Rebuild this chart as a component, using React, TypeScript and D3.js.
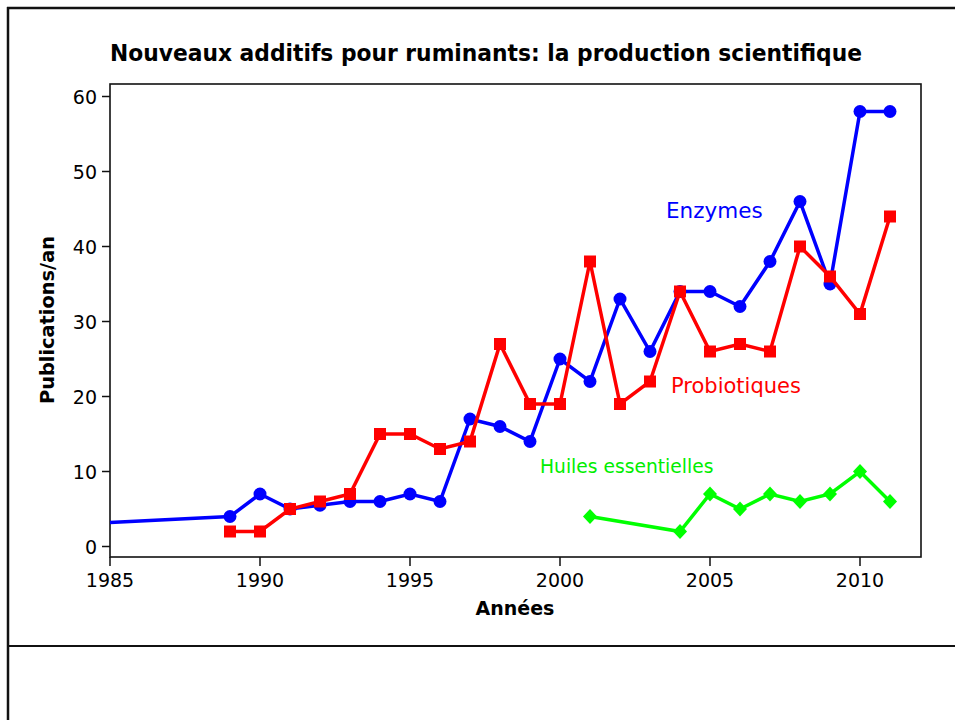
import React from 'react';
import * as d3 from 'd3';

const enzymeYears = [1985, 1989, 1990, 1991, 1992, 1993, 1994, 1995, 1996, 1997, 1998, 1999, 2000, 2001, 2002, 2003, 2004, 2005, 2006, 2007, 2008, 2009, 2010, 2011];
const enzymeValues = [3.2, 4, 7, 5, 5.5, 6, 6, 7, 6, 17, 16, 14, 25, 22, 33, 26, 34, 34, 32, 38, 46, 35, 58, 58];

const probioYears = [1989, 1990, 1991, 1992, 1993, 1994, 1995, 1996, 1997, 1998, 1999, 2000, 2001, 2002, 2003, 2004, 2005, 2006, 2007, 2008, 2009, 2010, 2011];
const probioValues = [2, 2, 5, 6, 7, 15, 15, 13, 14, 27, 19, 19, 38, 19, 22, 34, 26, 27, 26, 40, 36, 31, 44];

const huileYears = [2001, 2004, 2005, 2006, 2007, 2008, 2009, 2010, 2011];
const huileValues = [4, 2, 7, 5, 7, 6, 7, 10, 6];

const xTicks = [1985, 1990, 1995, 2000, 2005, 2010];
const yTicks = [0, 10, 20, 30, 40, 50, 60];

const FONT = '"DejaVu Sans", Verdana, sans-serif';
const W = 955;
const H = 720;
const box = { left: 110, right: 921, top: 84, bottom: 557 };

const x = d3.scaleLinear().domain([1985, 2010]).range([110, 860]);
const y = d3.scaleLinear().domain([0, 60]).range([546.5, 96.5]);

type Pt = { year: number; value: number };
const zip = (ys: number[], vs: number[]): Pt[] => ys.map((yr, i) => ({ year: yr, value: vs[i] }));

const line = d3.line<Pt>().x(d => x(d.year)).y(d => y(d.value));

const enzymes = zip(enzymeYears, enzymeValues);
const probios = zip(probioYears, probioValues);
const huiles = zip(huileYears, huileValues);

const App: React.FC = () => {
  const lw = 3.5;
  return (
    <svg width={W} height={H} style={{ position: 'absolute', left: 0, top: 0, background: '#fff' }} fontFamily={FONT}>
      {/* outer frame */}
      <line x1={7} x2={W} y1={8} y2={8} stroke="#111" strokeWidth={2.5} />
      <line x1={8} x2={8} y1={7} y2={H} stroke="#111" strokeWidth={2.5} />
      <line x1={8} x2={W} y1={646} y2={646} stroke="#111" strokeWidth={2} />

      <text x={486} y={61} textAnchor="middle" fontSize={23} fontWeight="bold" textLength={752} lengthAdjust="spacingAndGlyphs">
        Nouveaux additifs pour ruminants: la production scientifique
      </text>

      {/* plot box */}
      <rect x={box.left} y={box.top} width={box.right - box.left} height={box.bottom - box.top} fill="none" stroke="#111" strokeWidth={1.6} />

      {xTicks.map(t => (
        <g key={t}>
          <line x1={x(t)} x2={x(t)} y1={box.bottom} y2={box.bottom + 9} stroke="#111" strokeWidth={1.5} />
          <text x={x(t)} y={587} textAnchor="middle" fontSize={19}>{t}</text>
        </g>
      ))}
      {yTicks.map(t => (
        <g key={t}>
          <line x1={box.left - 8} x2={box.left} y1={y(t)} y2={y(t)} stroke="#111" strokeWidth={1.5} />
          <text x={97} y={y(t) + 7} textAnchor="end" fontSize={19}>{t}</text>
        </g>
      ))}

      <text x={515} y={615} textAnchor="middle" fontSize={19} fontWeight="bold">Années</text>
      <text transform="translate(54,320) rotate(-90)" textAnchor="middle" fontSize={19} fontWeight="bold" textLength={168} lengthAdjust="spacingAndGlyphs">Publications/an</text>

      {/* Enzymes */}
      <path d={line(enzymes) || ''} fill="none" stroke="#0000ff" strokeWidth={lw} />
      {enzymes.filter(d => d.year > 1985).map(d => (
        <circle key={d.year} cx={x(d.year)} cy={y(d.value)} r={6.5} fill="#0000ff" />
      ))}

      {/* Probiotiques */}
      <path d={line(probios) || ''} fill="none" stroke="#ff0000" strokeWidth={lw} />
      {probios.map(d => (
        <rect key={d.year} x={x(d.year) - 6} y={y(d.value) - 6} width={12} height={12} fill="#ff0000" />
      ))}

      {/* Huiles essentielles */}
      <path d={line(huiles) || ''} fill="none" stroke="#00ff00" strokeWidth={lw} />
      {huiles.map(d => (
        <path key={d.year} d="M0,-7.5L7,0L0,7.5L-7,0Z" transform={`translate(${x(d.year)},${y(d.value)})`} fill="#00ff00" />
      ))}

      <text x={666} y={218} fontSize={21.5} fill="#0000ff">Enzymes</text>
      <text x={671} y={393} fontSize={21} fill="#ff0000">Probiotiques</text>
      <text x={540} y={473} fontSize={18.7} fill="#00ee00">Huiles essentielles</text>
    </svg>
  );
};

export default App;
